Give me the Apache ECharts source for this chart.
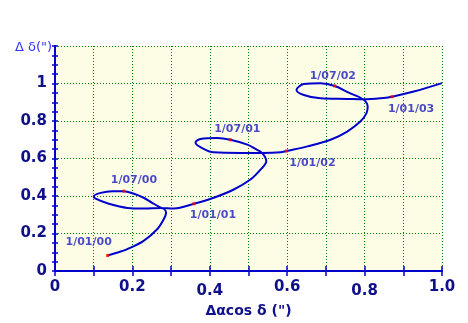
<!DOCTYPE html>
<html>
<head>
<meta charset="utf-8">
<script src="https://cdn.jsdelivr.net/npm/echarts@6/dist/echarts.min.js"></script>
<style>
  html, body { margin: 0; padding: 0; background: #fff; }
  #chart { width: 468px; height: 323px; }
</style>
</head>
<body>
<div id="chart"></div>
<script>
// path of the star (x = Δα cos δ, y = Δδ, arcsec)
const pathX = [
  0.136, 0.162, 0.187, 0.229, 0.264, 0.281, 0.287, 0.283, 0.273, 0.251,
  0.229, 0.204, 0.178, 0.148, 0.118, 0.100, 0.105, 0.139, 0.187, 0.230,
  0.273, 0.307, 0.359,
  0.410, 0.462, 0.505, 0.531, 0.546, 0.535, 0.518, 0.497, 0.453, 0.419,
  0.376, 0.363, 0.376, 0.410, 0.479, 0.535, 0.583, 0.598,
  0.652, 0.712, 0.755, 0.789, 0.805, 0.808, 0.796, 0.759, 0.723, 0.686,
  0.643, 0.624, 0.643, 0.686, 0.755, 0.796, 0.841, 0.871, 0.927, 1.000
]
const pathY = [
  0.083, 0.099, 0.117, 0.161, 0.223, 0.276, 0.311, 0.329, 0.338, 0.364,
  0.391, 0.412, 0.426, 0.426, 0.417, 0.399, 0.386, 0.359, 0.337, 0.334,
  0.336, 0.334, 0.359,
  0.391, 0.435, 0.488, 0.541, 0.585, 0.630, 0.651, 0.674, 0.700, 0.709,
  0.704, 0.686, 0.661, 0.633, 0.630, 0.630, 0.633, 0.640,
  0.665, 0.700, 0.744, 0.797, 0.842, 0.877, 0.916, 0.951, 0.987, 1.001,
  0.997, 0.966, 0.939, 0.921, 0.918, 0.916, 0.921, 0.930, 0.957, 1.002
]

// dated positions
const dates = ['1/01/00', '1/07/00', '1/01/01', '1/07/01', '1/01/02', '1/07/02', '1/01/03']
const dateX = [0.136, 0.178, 0.359, 0.453, 0.598, 0.723, 0.871]
const dateY = [0.083, 0.426, 0.359, 0.700, 0.640, 0.987, 0.930]

// where each date label sits relative to its dot (px)
const dateLabelOffset = [[-19, -13], [10, -11], [19, 11], [7, -11], [26, 12], [-2, -10], [19, 12]]

const chart = echarts.init(document.getElementById('chart'))

const navy = '#10108a'
const frame = '#0000cc'
const gridLine = { show: true, lineStyle: { color: '#008000', width: 1, type: [1, 2] } }
const font = 'DejaVu Sans'

const xLabel = (v) => {
  const k = Math.round(v * 10)
  if (k % 2 !== 0) return ''
  if (k === 0) return '0'
  const s = (k / 10).toFixed(1)
  return (k === 4 || k === 8) ? '{lo|' + s + '}' : '{hi|' + s + '}'
}

const yLabel = (v) => {
  const k = Math.round(v * 10)
  if (k === 12) return ''
  if (k === 0) return '0'
  if (k === 10) return '1'
  return (k / 10).toFixed(1)
}

const pathData = pathX.map((x, i) => [x, pathY[i]])
const dateData = dates.map((d, i) => ({
  value: [dateX[i], dateY[i]],
  name: d,
  label: { offset: dateLabelOffset[i] }
}))

const labelFont = { fontFamily: font, fontWeight: 'bold', fontSize: 15, color: navy }

chart.setOption({
  animation: false,
  backgroundColor: '#ffffff',
  title: {
    text: 'Δ δ(")',
    left: 15,
    top: 41,
    padding: 0,
    z: 10,
    textStyle: { fontFamily: font, fontWeight: 'normal', fontSize: 13, color: '#3434ff' }
  },
  grid: {
    left: 55, right: 26, top: 46, bottom: 51,
    show: true, backgroundColor: '#fdfde6', borderWidth: 0
  },
  xAxis: [
    {
      type: 'value', min: 0, max: 1, interval: 0.1, position: 'bottom',
      axisLine: { lineStyle: { color: frame, width: 2 } },
      axisTick: { inside: true, length: 5, lineStyle: { color: frame, width: 1.5 } },
      axisLabel: {
        formatter: xLabel, margin: 9, ...labelFont,
        rich: {
          hi: { ...labelFont },
          lo: { ...labelFont, padding: [4, 0, 0, 0] }
        }
      },
      splitLine: gridLine,
      name: 'Δαcos δ (")',
      nameLocation: 'middle',
      nameGap: 29,
      nameTextStyle: { fontFamily: font, fontWeight: 'bold', fontSize: 14, color: navy }
    },
    {
      type: 'value', min: 0, max: 1, interval: 0.1, position: 'top',
      axisLine: { lineStyle: { color: frame, width: 2 } },
      axisTick: { inside: true, length: 5, lineStyle: { color: frame, width: 1.5 } },
      axisLabel: { show: false },
      splitLine: { show: false }
    }
  ],
  yAxis: [
    {
      type: 'value', min: 0, max: 1.2, interval: 0.2, position: 'left',
      axisLine: { show: true, lineStyle: { color: frame, width: 2 } },
      axisTick: { show: true, inside: true, length: 3, lineStyle: { color: frame, width: 1.5 } },
      minorTick: { show: true, splitNumber: 4, length: 3, lineStyle: { color: frame, width: 1.5 } },
      axisLabel: { formatter: yLabel, margin: 8, ...labelFont },
      splitLine: gridLine
    },
    {
      type: 'value', min: 0, max: 1.2, interval: 0.2, position: 'right',
      axisLine: { show: true, lineStyle: { color: frame, width: 2 } },
      axisTick: { show: true, inside: true, length: 3, lineStyle: { color: frame, width: 1.5 } },
      minorTick: { show: true, splitNumber: 4, length: 3, lineStyle: { color: frame, width: 1.5 } },
      axisLabel: { show: false },
      splitLine: { show: false }
    }
  ],
  series: [
    {
      type: 'line',
      data: pathData,
      smooth: 0.35,
      showSymbol: false,
      lineStyle: { color: '#0000cc', width: 2 },
      z: 2
    },
    {
      type: 'scatter',
      data: dateData,
      symbol: 'rect',
      symbolSize: 3,
      itemStyle: { color: '#ff0000' },
      label: {
        show: true,
        position: 'inside',
        formatter: '{b}',
        fontFamily: font,
        fontWeight: 'bold',
        fontSize: 11,
        color: '#1c1cc0'
      },
      z: 3
    }
  ]
})
</script>
</body>
</html>
